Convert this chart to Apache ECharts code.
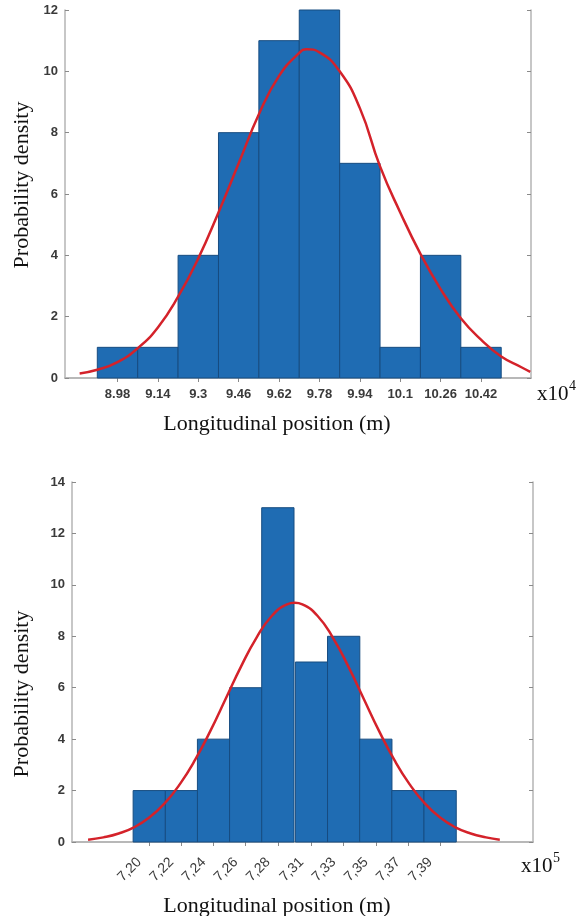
<!DOCTYPE html>
<html>
<head>
<meta charset="utf-8">
<script src="https://cdn.jsdelivr.net/npm/echarts@6/dist/echarts.min.js"></script>
<style>
html,body{margin:0;padding:0;background:#fff;}
#chart{width:579px;height:916px;}
</style>
</head>
<body>
<div id="chart"></div>
<script>
// ---- Top histogram (x10^4 m) ----
const topCenters = [8.98, 9.14, 9.30, 9.46, 9.62, 9.78, 9.94, 10.10, 10.26, 10.42];
const topCounts = [1, 1, 4, 8, 11, 12, 7, 1, 4, 1];
const topLabels = ['8.98', '9.14', '9.3', '9.46', '9.62', '9.78', '9.94', '10.1', '10.26', '10.42'];
const topBinWidth = 0.16;
const topYTicks = [0, 2, 4, 6, 8, 10, 12];
const topCurveX = [8.83, 8.90, 8.98, 9.06, 9.14, 9.22, 9.30, 9.38, 9.46, 9.54, 9.62, 9.70, 9.73, 9.78, 9.86, 9.94, 10.02, 10.10, 10.18, 10.26, 10.34, 10.42, 10.50, 10.58, 10.615];
const topCurveY = [0.15, 0.27, 0.52, 0.97, 1.65, 2.65, 3.9, 5.4, 7.0, 8.6, 9.85, 10.6, 10.72, 10.62, 10.0, 8.8, 6.9, 5.4, 4.05, 2.9, 1.95, 1.25, 0.7, 0.35, 0.2];

// ---- Bottom histogram (x10^5 m) ----
const botCenters = [7.200, 7.221, 7.242, 7.263, 7.284, 7.306, 7.327, 7.348, 7.369, 7.390];
const botCounts = [2, 2, 4, 6, 13, 7, 8, 4, 2, 2];
const botLabels = ['7,20', '7,22', '7,24', '7,26', '7,28', '7,31', '7,33', '7,35', '7,37', '7,39'];
const botBinWidth = 0.02111;
const botYTicks = [0, 2, 4, 6, 8, 10, 12, 14];
const botCurveX = [7.16, 7.17, 7.18, 7.19, 7.20, 7.21, 7.22, 7.23, 7.24, 7.25, 7.26, 7.27, 7.28, 7.29, 7.295, 7.30, 7.31, 7.32, 7.33, 7.34, 7.35, 7.36, 7.37, 7.38, 7.39, 7.40, 7.41, 7.42, 7.429];
const botCurveY = [0.09, 0.18, 0.33, 0.57, 0.95, 1.5, 2.25, 3.2, 4.33, 5.58, 6.83, 7.94, 8.79, 9.24, 9.3, 9.24, 8.79, 7.94, 6.83, 5.58, 4.33, 3.2, 2.25, 1.5, 0.95, 0.57, 0.33, 0.18, 0.09];

const AXIS_COLOR = '#b4b4b4';
const BAR_FILL = '#1f6cb3';
const BAR_EDGE = '#174c80';
const CURVE = '#d4222a';
const LABEL_COLOR = '#3a3a3a';

function binData(centers, counts, w) {
  return centers.map((c, i) => [c - w / 2, c + w / 2, counts[i]]);
}
function curveData(xs, ys) { return xs.map((x, i) => [x, ys[i]]); }
function labelFor(centers, labels) {
  return function (v) {
    let best = 0, bd = Infinity;
    centers.forEach((c, i) => { const d = Math.abs(c - v); if (d < bd) { bd = d; best = i; } });
    return labels[best];
  };
}
function renderBin(params, api) {
  const lo = api.value(0), hi = api.value(1), c = api.value(2);
  const p1 = api.coord([lo, c]);
  const p2 = api.coord([hi, 0]);
  return {
    type: 'rect',
    shape: { x: p1[0], y: p1[1], width: p2[0] - p1[0], height: p2[1] - p1[1] },
    style: { fill: BAR_FILL, stroke: BAR_EDGE, lineWidth: 1 }
  };
}

function xAxes(gridIndex, min, max, centers, labels, rotate) {
  const base = {
    type: 'value', gridIndex, min, max,
    splitLine: { show: false },
    axisLine: { show: true, lineStyle: { color: AXIS_COLOR, width: 1.5 } },
    axisTick: { show: true, inside: true, length: 4, customValues: centers, lineStyle: { color: '#8a8a8a' } }
  };
  return [
    Object.assign({}, base, {
      position: 'bottom',
      axisLabel: {
        show: true, customValues: centers, formatter: labelFor(centers, labels),
        color: LABEL_COLOR, fontFamily: 'Liberation Sans, Arial, sans-serif',
        fontSize: rotate ? 14 : 13, fontWeight: rotate ? 'normal' : 'bold',
        rotate: rotate ? 45 : 0, margin: rotate ? 8 : 10,
        padding: rotate ? [0, 14, 0, 0] : 0
      }
    }),
    Object.assign({}, base, { position: 'top', axisLabel: { show: false } })
  ];
}
function yAxes(gridIndex, ticks) {
  const base = {
    type: 'value', gridIndex, min: ticks[0], max: ticks[ticks.length - 1], interval: 2,
    splitLine: { show: false },
    axisLine: { show: true, lineStyle: { color: AXIS_COLOR, width: 1.5 } },
    axisTick: { show: true, inside: true, length: 4, lineStyle: { color: '#8a8a8a' } }
  };
  return [
    Object.assign({}, base, {
      position: 'left',
      axisLabel: { show: true, color: LABEL_COLOR, fontFamily: 'Liberation Sans, Arial, sans-serif', fontSize: 13, fontWeight: 'bold', margin: 7 }
    }),
    Object.assign({}, base, { position: 'right', axisLabel: { show: false } })
  ];
}

const chart = echarts.init(document.getElementById('chart'), null, { renderer: 'canvas' });

const serif = 'Liberation Serif, Times New Roman, serif';
const option = {
  animation: false,
  backgroundColor: '#ffffff',
  grid: [
    { left: 65, top: 10, width: 466, height: 368 },
    { left: 72, top: 482, width: 461, height: 360 }
  ],
  xAxis: [].concat(
    xAxes(0, 8.772, 10.618, topCenters, topLabels, false),
    xAxes(1, 7.1495, 7.4507, botCenters, botLabels, true)
  ),
  yAxis: [].concat(yAxes(0, topYTicks), yAxes(1, botYTicks)),
  series: [
    { type: 'custom', xAxisIndex: 0, yAxisIndex: 0, renderItem: renderBin, encode: { x: [0, 1], y: 2 }, data: binData(topCenters, topCounts, topBinWidth), z: 2 },
    { type: 'line', xAxisIndex: 0, yAxisIndex: 0, data: curveData(topCurveX, topCurveY), smooth: true, showSymbol: false, lineStyle: { color: CURVE, width: 2.5 }, z: 5 },
    { type: 'custom', xAxisIndex: 2, yAxisIndex: 2, renderItem: renderBin, encode: { x: [0, 1], y: 2 }, data: binData(botCenters, botCounts, botBinWidth), z: 2 },
    { type: 'line', xAxisIndex: 2, yAxisIndex: 2, data: curveData(botCurveX, botCurveY), smooth: true, showSymbol: false, lineStyle: { color: CURVE, width: 2.5 }, z: 5 }
  ],
  graphic: [
    { type: 'text', x: 277, y: 424, style: { text: 'Longitudinal position (m)', font: '22px ' + serif, fill: '#111', align: 'center', verticalAlign: 'middle' } },
    { type: 'text', x: 277, y: 906, style: { text: 'Longitudinal position (m)', font: '22px ' + serif, fill: '#111', align: 'center', verticalAlign: 'middle' } },
    { type: 'text', x: 22, y: 185, rotation: Math.PI / 2, style: { text: 'Probability density', font: '22px ' + serif, fill: '#111', align: 'center', verticalAlign: 'middle' } },
    { type: 'text', x: 22, y: 694, rotation: Math.PI / 2, style: { text: 'Probability density', font: '22px ' + serif, fill: '#111', align: 'center', verticalAlign: 'middle' } },
    { type: 'text', x: 537, y: 394, style: { text: 'x10', font: '21px ' + serif, fill: '#111', align: 'left', verticalAlign: 'middle' } },
    { type: 'text', x: 569, y: 386, style: { text: '4', font: '14px ' + serif, fill: '#111', align: 'left', verticalAlign: 'middle' } },
    { type: 'text', x: 521, y: 866, style: { text: 'x10', font: '21px ' + serif, fill: '#111', align: 'left', verticalAlign: 'middle' } },
    { type: 'text', x: 553, y: 858, style: { text: '5', font: '14px ' + serif, fill: '#111', align: 'left', verticalAlign: 'middle' } }
  ]
};
chart.setOption(option);
</script>
</body>
</html>
